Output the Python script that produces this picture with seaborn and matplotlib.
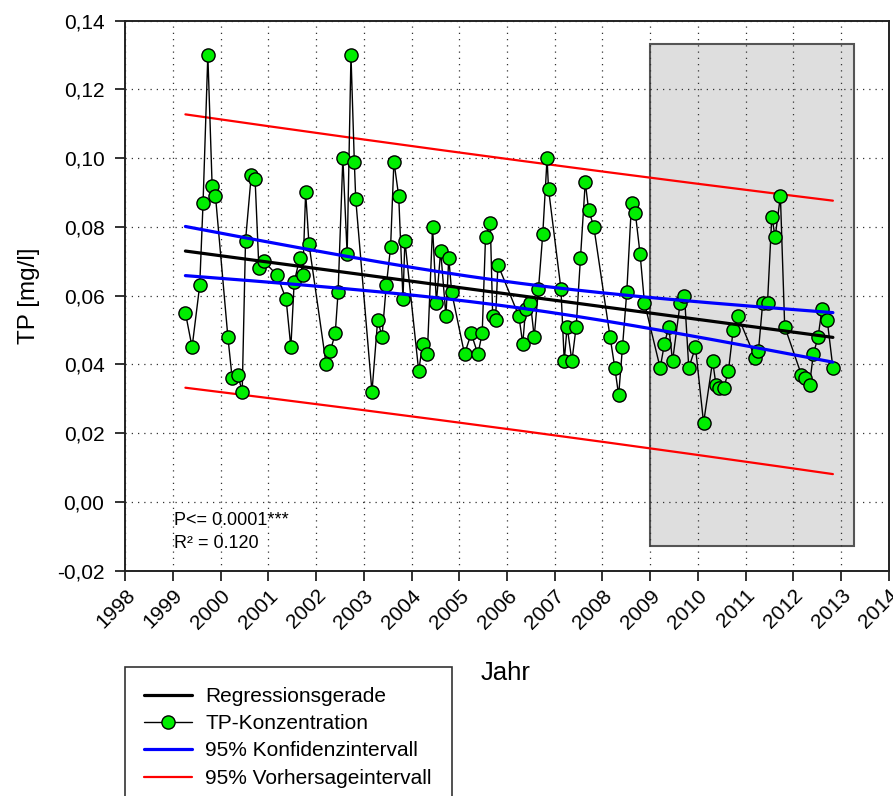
import numpy as np
import pandas as pd
import matplotlib
matplotlib.use("Agg")
import matplotlib.pyplot as plt
import seaborn as sns
from matplotlib.patches import Rectangle

# ---------------- data ----------------
dates = [1999.26, 1999.40, 1999.56, 1999.63, 1999.73, 1999.82, 1999.89,
         2000.15, 2000.24, 2000.36, 2000.45, 2000.52, 2000.64, 2000.72, 2000.80, 2000.90,
         2001.18, 2001.37, 2001.47, 2001.54, 2001.66, 2001.72, 2001.78, 2001.85,
         2002.21, 2002.30, 2002.40, 2002.46, 2002.56, 2002.65, 2002.73, 2002.80, 2002.83,
         2003.17, 2003.29, 2003.38, 2003.47, 2003.56, 2003.63, 2003.73, 2003.82, 2003.86,
         2004.15, 2004.23, 2004.33, 2004.44, 2004.52, 2004.61, 2004.72, 2004.78, 2004.84,
         2005.11, 2005.25, 2005.39, 2005.48, 2005.55, 2005.65, 2005.70, 2005.76, 2005.81,
         2006.25, 2006.33, 2006.39, 2006.49, 2006.57, 2006.66, 2006.75, 2006.84, 2006.87,
         2007.13, 2007.20, 2007.26, 2007.36, 2007.45, 2007.54, 2007.64, 2007.71, 2007.82,
         2008.16, 2008.26, 2008.34, 2008.42, 2008.51, 2008.61, 2008.69, 2008.79, 2008.88,
         2009.21, 2009.30, 2009.39, 2009.47, 2009.63, 2009.72, 2009.81, 2009.95,
         2010.12, 2010.31, 2010.38, 2010.45, 2010.54, 2010.64, 2010.74, 2010.84,
         2011.20, 2011.27, 2011.36, 2011.46, 2011.55, 2011.62, 2011.73, 2011.82,
         2012.17, 2012.24, 2012.34, 2012.42, 2012.52, 2012.60, 2012.71, 2012.83]

tp = [0.055, 0.045, 0.063, 0.087, 0.130, 0.092, 0.089,
      0.048, 0.036, 0.037, 0.032, 0.076, 0.095, 0.094, 0.068, 0.070,
      0.066, 0.059, 0.045, 0.064, 0.071, 0.066, 0.090, 0.075,
      0.040, 0.044, 0.049, 0.061, 0.100, 0.072, 0.130, 0.099, 0.088,
      0.032, 0.053, 0.048, 0.063, 0.074, 0.099, 0.089, 0.059, 0.076,
      0.038, 0.046, 0.043, 0.080, 0.058, 0.073, 0.054, 0.071, 0.061,
      0.043, 0.049, 0.043, 0.049, 0.077, 0.081, 0.054, 0.053, 0.069,
      0.054, 0.046, 0.056, 0.058, 0.048, 0.062, 0.078, 0.100, 0.091,
      0.062, 0.041, 0.051, 0.041, 0.051, 0.071, 0.093, 0.085, 0.080,
      0.048, 0.039, 0.031, 0.045, 0.061, 0.087, 0.084, 0.072, 0.058,
      0.039, 0.046, 0.051, 0.041, 0.058, 0.060, 0.039, 0.045,
      0.023, 0.041, 0.034, 0.033, 0.033, 0.038, 0.050, 0.054,
      0.042, 0.044, 0.058, 0.058, 0.083, 0.077, 0.089, 0.051,
      0.037, 0.036, 0.034, 0.043, 0.048, 0.056, 0.053, 0.039]

x_ticks = list(range(1998, 2015))
x_ticklabels = [str(v) for v in x_ticks]
y_ticks = [-0.02, 0.00, 0.02, 0.04, 0.06, 0.08, 0.10, 0.12, 0.14]
y_ticklabels = ["-0,02", "0,00", "0,02", "0,04", "0,06", "0,08", "0,10", "0,12", "0,14"]

# highlighted period (grey box)
period_x = [2009.0, 2013.27]
period_y = [-0.0129, 0.1332]

stats_text = ["P<= 0.0001***", "R\u00b2 = 0.120"]

legend_labels = ["Regressionsgerade", "TP-Konzentration",
                 "95% Konfidenzintervall", "95% Vorhersageintervall"]

# ---------------- regression ----------------
x = np.array(dates)
y = np.array(tp)
n = len(x)
slope, intercept = np.polyfit(x, y, 1)
xfit = np.linspace(x.min(), x.max(), 200)
yfit = intercept + slope * xfit
resid = y - (intercept + slope * x)
s = np.sqrt(np.sum(resid ** 2) / (n - 2))
sxx = np.sum((x - x.mean()) ** 2)
t = 1.98
ci = t * s * np.sqrt(1.0 / n + (xfit - x.mean()) ** 2 / sxx)
pi = t * s * np.sqrt(1.0 + 1.0 / n + (xfit - x.mean()) ** 2 / sxx)

fit = pd.DataFrame({"x": xfit, "fit": yfit, "ci_lo": yfit - ci, "ci_hi": yfit + ci,
                    "pi_lo": yfit - pi, "pi_hi": yfit + pi})
obs = pd.DataFrame({"Jahr": x, "TP": y})

# ---------------- plot ----------------
sns.set_theme(style="white")
plt.rcParams["font.family"] = ["Liberation Sans", "DejaVu Sans"]
plt.rcParams["text.color"] = "black"
plt.rcParams["axes.labelcolor"] = "black"
plt.rcParams["xtick.color"] = "black"
plt.rcParams["ytick.color"] = "black"

fig = plt.figure(figsize=(8.93, 7.96), dpi=100)
ax = fig.add_axes([0.1403, 0.2830, 0.9952 - 0.1403, 0.9742 - 0.2830])

ax.add_patch(Rectangle((period_x[0], period_y[0]), period_x[1] - period_x[0],
                       period_y[1] - period_y[0], facecolor="#dedede",
                       edgecolor="#555555", linewidth=1.5, zorder=0.2))

sns.lineplot(data=fit, x="x", y="pi_hi", ax=ax, color="#ff0000", linewidth=1.6,
             estimator=None, sort=False, zorder=3, label=legend_labels[3])
sns.lineplot(data=fit, x="x", y="pi_lo", ax=ax, color="#ff0000", linewidth=1.6,
             estimator=None, sort=False, zorder=3)
sns.lineplot(data=obs, x="Jahr", y="TP", ax=ax, color="black", linewidth=1.0,
             marker="o", markersize=9.5, markerfacecolor="#00ee00",
             markeredgecolor="black", markeredgewidth=1.0,
             estimator=None, sort=False, zorder=4, label=legend_labels[1])
sns.lineplot(data=fit, x="x", y="ci_hi", ax=ax, color="#0000ff", linewidth=2.3,
             estimator=None, sort=False, zorder=5, label=legend_labels[2])
sns.lineplot(data=fit, x="x", y="ci_lo", ax=ax, color="#0000ff", linewidth=2.3,
             estimator=None, sort=False, zorder=5)
sns.lineplot(data=fit, x="x", y="fit", ax=ax, color="black", linewidth=2.3,
             estimator=None, sort=False, zorder=6, label=legend_labels[0])

ax.set_xlim(1998, 2014)
ax.set_ylim(-0.02, 0.14)
ax.set_xticks(x_ticks)
ax.set_xticklabels(x_ticklabels)
ax.set_yticks(y_ticks)
ax.set_yticklabels(y_ticklabels)

ax.set_axisbelow(True)
ax.grid(True, color="#333333", linestyle=(0, (1, 4)), linewidth=0.9)

for sp in ax.spines.values():
    sp.set_visible(True)
    sp.set_color("#222222")
    sp.set_linewidth(1.4)

ax.tick_params(axis="both", which="major", direction="out", length=7, width=1.3,
               color="#222222", labelsize=15, labelcolor="black",
               bottom=True, left=True)
ax.tick_params(axis="x", pad=4)
ax.tick_params(axis="y", pad=8)
for lab in ax.get_xticklabels():
    lab.set_rotation(45)
    lab.set_ha("right")
    lab.set_va("top")
    lab.set_rotation_mode("anchor")

ax.set_ylabel("TP [mg/l]", fontsize=17.5, color="black", labelpad=12)
ax.set_xlabel("")
fig.text(506 / 893, 1 - 673 / 796, "Jahr", fontsize=18.5, ha="center", va="center",
         color="black")

ax.text(1999.03, -0.0055, stats_text[0], fontsize=13, va="center", ha="left",
        color="black")
ax.text(1999.03, -0.0122, stats_text[1], fontsize=13, va="center", ha="left",
        color="black")

handles, labels = ax.get_legend_handles_labels()
hmap = dict(zip(labels, handles))
if ax.get_legend() is not None:
    ax.get_legend().remove()
leg = fig.legend([hmap[l] for l in legend_labels], legend_labels,
                 loc="upper left", bbox_to_anchor=(124.7 / 893, 1 - 667 / 796),
                 frameon=True, fancybox=False, edgecolor="black", fontsize=15,
                 handlelength=2.3, handletextpad=0.62, borderpad=0.95,
                 labelspacing=0.4, borderaxespad=0, labelcolor="black")
leg.get_frame().set_linewidth(1.2)

fig.savefig("out.png", dpi=100)
